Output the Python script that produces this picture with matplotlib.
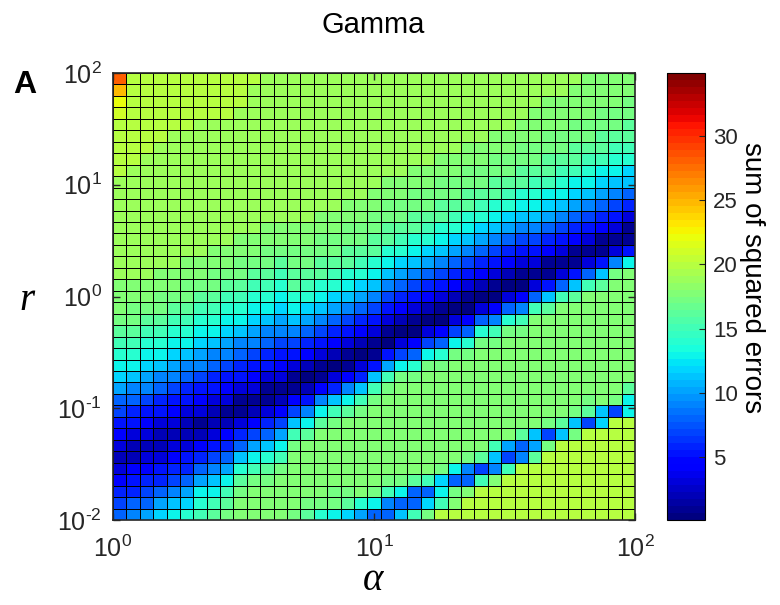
import numpy as np
import matplotlib
matplotlib.use("Agg")
import matplotlib.pyplot as plt
from matplotlib.ticker import FuncFormatter

plt.rcParams['font.family'] = ['Liberation Sans', 'DejaVu Sans']
plt.rcParams['mathtext.fontset'] = 'custom'
plt.rcParams['mathtext.rm'] = 'Liberation Sans'

# parameter grid: shape alpha (1..100) and rate r (0.01..100), cell edges
alpha_edges = np.logspace(0, 2, 40)
r_edges = np.logspace(-2, 2, 40)

# colour limits of the error surface
sse_min, sse_max = 0.1, 34.9
cbar_ticks = [5, 10, 15, 20, 25, 30]

# sum of squared errors, one string per alpha column, r running from 100 down to 0.01
# each character is an error level: '0'-'9' then a=10, b=11, ... s=28
LEVELS = "0123456789abcdefghijklmnopqrstuvwxyz"
sse_columns = [
    "spmlkkkkk" "jjjjjjjjj" "iiihgfedca" "87543234678",
    "kkkkkkkk" "jjjjjjjjjj" "iihhgfedb9" "8653224568" "9",
    "kkkkkkk" "jjjjjjjjjjj" "iihgfedca9" "7543234678" "a",
    "kkkkkk" "jjjjjjjjjjj" "iihhgfedb9" "8653223568" "ac",
    "kkkkk" "jjjjjjjjjjjj" "iihgfedca9" "7543234679" "bd",
    "kkkkk" "jjjjjjjjjjj" "iihhgfedb9" "8653223568" "ace",
    "kkkk" "jjjjjjjjjjjj" "iihgfedca9" "754312468a" "def",
    "kkkk" "jjjjjjjjjjj" "iihhgfedb9" "8653223579" "bdfg",
    "kkkk" "jjjjjjjjjjj" "iihgfedca9" "754312468a" "dfgh",
    "kkk" "jjjjjjjjjjj" "iihhgfedb9" "865311368b" "eghii",
    "k" "jjjjjjjjjjjjj" "iihgfedca9" "75431247ad" "fhiii",
    "jjjjjjjjjjjjj" "iihhgfedb9" "865311368b" "eghiii",
    "jjjjjjjjjjjjj" "iihgfedca9" "75431247ad" "fhiiii",
    "jjjjjjjjjjjjj" "iihhggedb9" "7531147bfh" "iiiiih",
    "jjjjjjjjjjjjj" "iihhgfeca8" "6420259dgi" "iiiihg",
    "jjjjjjjjjjjj" "iihhggedb9" "7531149dgi" "iiiiihe",
    "jjjjjjjjjjjj" "iihhgfeca8" "642036bfhi" "iiiihhd",
    "jjjjjjjjjjj" "iihhggedb9" "7531149dgi" "iiiiihgc",
    "jjjjjjjjjjj" "iihhgfeca8" "642036bfhi" "iiiiiiea",
    "jjjjjjjjjj" "iihhggedb9" "753115bfhi" "iiiiiihd8",
    "jjjjjjjjj" "iihhggedb9" "753105afhi" "iiiiiihf98",
    "jjjjjjjjj" "iihhgfeca8" "642037dhii" "iiiiiihd8b",
    "jjjjjjjj" "iihhggedb9" "7531048ehi" "iiiiiiig88f",
    "jjjjjjjj" "iihhgfeca8" "642037dhii" "iiiiiiif8ch",
    "jjjjjjj" "iihhggedb9" "7531048ehi" "iiiiiiihcdfk",
    "jjjjjjj" "iihhgfeca8" "642037dhii" "iiiiiiid8hik",
    "jjjjjj" "iihhggedb9" "7531048ehi" "iiiiiiih98ikk",
    "jjjjjj" "iihhgfeca8" "642038ehii" "iiiiiiig7fkkk",
    "jjjjj" "iihhggedb9" "7531049fhi" "iiiiiiifb9ikkk",
    "jjjjj" "iihhgfeca8" "642038ehii" "iiiiiiia7fkkkk",
    "jjjj" "iihhggedb9" "7531049fhi" "iiiiiiig89kkkkk",
    "jjj" "iiihhgfedb" "9753138fii" "iiiiiiiibagkkkkk",
    "jj" "iiihhggfdc" "a864115bgi" "iiiiiiiih7hkkkkkk",
    "jj" "iiihhgfedb" "9753138fii" "iiiiiiiigbkkkkkkk",
    "j" "iiihhggfdc" "a864115bgi" "iiiiiiiihbhkkkkkkk",
    "iiiihhgfedb" "9753138fi" "iiiiiiiihg7kkkkkkkk",
    "iiihhggfdca" "864115bgi" "iiiiiiiiibckkkkkkkk",
    "iiihhgfedb9" "753139hi" "iiiiiiiiih7kkkkkkkkk",
    "iihhggfecb" "863115di" "iiiiiiiiigddkkkkkkkkk",
]
assert all(len(col) == 39 for col in sse_columns)

# rows = r ascending, columns = alpha ascending
sse = np.array([[LEVELS.index(ch) for ch in col[::-1]] for col in sse_columns],
               dtype=float).T


def pow10_label(v, pos):
    # 10^k with a plain hyphen for negative exponents
    k = int(round(np.log10(v)))
    exp = r'\text{-}%d' % -k if k < 0 else '%d' % k
    return r'$\mathregular{10^{%s}}$' % exp


fig = plt.figure(figsize=(7.8, 6.05), dpi=100)
ax = fig.add_axes([113 / 780, 85 / 605, 522 / 780, 447 / 605])

cmap = plt.get_cmap('jet', 64)
mesh = ax.pcolormesh(alpha_edges, r_edges, sse, cmap=cmap,
                     vmin=sse_min, vmax=sse_max,
                     edgecolors='k', linewidth=0.7)
ax.set_xscale('log')
ax.set_yscale('log')
ax.set_xlim(1, 100)
ax.set_ylim(0.01, 100)
ax.set_xticks([1, 10, 100])
ax.set_yticks([0.01, 0.1, 1, 10, 100])
ax.xaxis.set_major_formatter(FuncFormatter(pow10_label))
ax.yaxis.set_major_formatter(FuncFormatter(pow10_label))
ax.minorticks_off()
ax.tick_params(direction='in', length=5, width=1, labelsize=18,
               top=True, right=True, colors='#262626')
ax.tick_params(axis='x', pad=11)
ax.tick_params(axis='y', pad=8)
for s in ax.spines.values():
    s.set_linewidth(1.2)
    s.set_color('#262626')

cax = fig.add_axes([667 / 780, 85 / 605, 38 / 780, 447 / 605])
cb = fig.colorbar(mesh, cax=cax, ticks=cbar_ticks)
cb.ax.tick_params(direction='in', length=4, width=0.8, labelsize=16,
                  colors='#262626', pad=6)
cb.outline.set_linewidth(0.8)

fig.text(373 / 780, 1 - 25 / 605, 'Gamma', ha='center', va='center',
         fontsize=21)
fig.text(25 / 780, 1 - 85 / 605, 'A', ha='center', va='center',
         fontsize=23, fontweight='bold')
fig.text(373 / 780, 1 - 580 / 605, 'α', ha='center', va='center',
         fontsize=28, fontstyle='italic', family='Liberation Serif')
fig.text(27 / 780, 1 - 300 / 605, 'r', ha='center', va='center',
         fontsize=28, fontstyle='italic', family='Liberation Serif')
fig.text(752 / 780, 1 - 278 / 605, 'sum of squared errors', rotation=270,
         ha='center', va='center', fontsize=20)

fig.savefig('out.png', dpi=100)
